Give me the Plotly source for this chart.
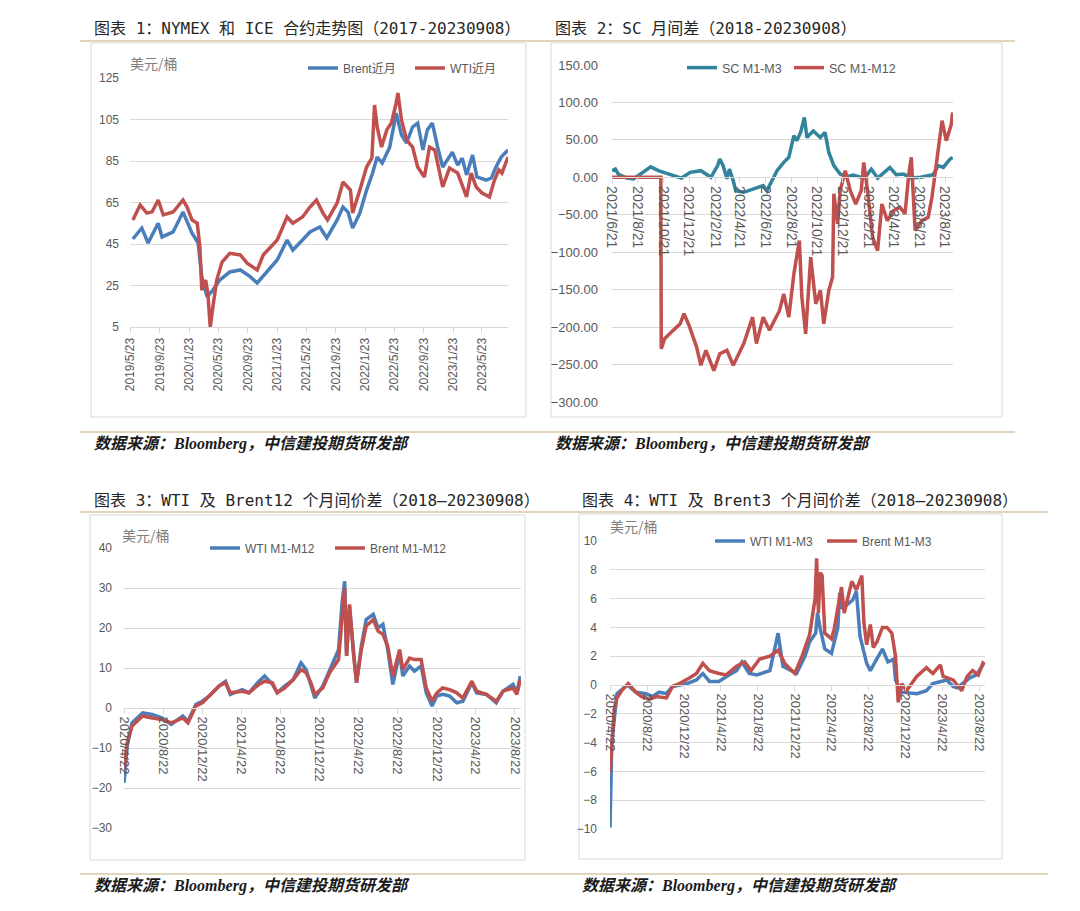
import plotly.graph_objects as go

W, H = 1080, 911

# ---------------- Data ----------------
# Panel 1: NYMEX & ICE front month (USD/bbl)
p1_brent_dates = ["2019-06-04","2019-07-11","2019-08-06","2019-09-17","2019-10-03","2019-11-18","2019-12-29",
                  "2020-02-04","2020-03-01","2020-03-16","2020-04-07","2020-05-01","2020-05-29","2020-07-10",
                  "2020-08-23","2020-09-30","2020-11-01","2021-01-23","2021-03-05","2021-03-29","2021-05-08",
                  "2021-06-08","2021-07-19","2021-08-17","2021-09-29","2021-10-23","2021-11-13","2021-12-02",
                  "2022-01-01","2022-01-29","2022-02-23","2022-03-14","2022-04-04","2022-05-05","2022-06-01",
                  "2022-06-23","2022-07-14","2022-08-08","2022-08-29","2022-09-20","2022-10-08","2022-10-29",
                  "2022-11-20","2022-12-11","2023-01-20","2023-02-11","2023-03-02","2023-03-20","2023-04-14",
                  "2023-05-02","2023-06-10","2023-07-01","2023-07-20","2023-08-11","2023-09-08"]
p1_brent = [47.4, 52.7, 45.5, 55.0, 48.4, 50.8, 60.4,
            50.3, 45.5, 29.1, 19.5, 22.8, 27.6, 31.5,
            32.5, 29.5, 26.2, 37.3, 46.9, 42.1, 46.9,
            50.8, 53.2, 47.9, 56.6, 62.8, 60.4, 52.7,
            59.9, 71.0, 79.2, 86.9, 84.0, 91.7, 108.1,
            97.5, 93.7, 101.4, 103.3, 90.3, 100.0, 103.3,
            91.7, 82.1, 89.3, 83.0, 86.4, 78.3, 87.9,
            77.3, 75.8, 76.8, 82.1, 86.9, 90.3]
p1_wti_dates = ["2019-06-04","2019-07-04","2019-08-01","2019-08-23","2019-09-17","2019-10-08","2019-11-18",
                "2019-12-29","2020-01-15","2020-02-04","2020-02-26","2020-03-08","2020-03-16","2020-04-01",
                "2020-04-10","2020-04-20","2020-05-01","2020-05-17","2020-06-08","2020-07-10","2020-08-23",
                "2020-09-20","2020-11-01","2020-11-26","2021-01-23","2021-03-05","2021-03-29","2021-05-08",
                "2021-06-08","2021-07-05","2021-08-01","2021-08-20","2021-09-29","2021-10-23","2021-11-23",
                "2021-12-02","2022-01-01","2022-01-29","2022-02-20","2022-03-03","2022-03-14","2022-04-01",
                "2022-04-23","2022-05-12","2022-06-01","2022-06-08","2022-06-23","2022-07-14","2022-08-08",
                "2022-08-29","2022-09-26","2022-10-17","2022-11-08","2022-11-29","2022-12-11","2023-01-08",
                "2023-02-11","2023-03-20","2023-04-08","2023-04-29","2023-05-23","2023-06-23","2023-07-14",
                "2023-08-01","2023-08-14","2023-09-08"]
p1_wti = [56.6, 63.8, 59.9, 60.5, 66.2, 59.0, 60.4,
          66.2, 62.8, 56.6, 55.0, 43.6, 22.8, 27.6,
          21.4, 5.0, 14.6, 27.6, 36.3, 40.5, 39.7,
          35.8, 32.5, 39.7, 46.9, 58.0, 55.0, 58.0,
          62.8, 66.2, 59.9, 56.6, 64.8, 74.9, 71.0,
          59.9, 71.0, 82.1, 86.4, 112.0, 101.4, 91.7,
          100.0, 103.3, 113.0, 117.8, 104.8, 95.1, 91.7,
          82.1, 77.3, 91.7, 90.3, 79.2, 72.5, 81.6,
          79.2, 67.7, 79.2, 72.5, 69.6, 67.7, 75.8,
          80.7, 79.2, 86.9]
p1_tick_dates = ["2019-05-23","2019-09-23","2020-01-23","2020-05-23","2020-09-23","2021-01-23","2021-05-23",
                 "2021-09-23","2022-01-23","2022-05-23","2022-09-23","2023-01-23","2023-05-23"]
p1_tick_text = ["2019/5/23","2019/9/23","2020/1/23","2020/5/23","2020/9/23","2021/1/23","2021/5/23",
                "2021/9/23","2022/1/23","2022/5/23","2022/9/23","2023/1/23","2023/5/23"]

# Panel 2: SC spreads
p2_m3_dates = ["2021-06-21","2021-06-29","2021-07-06","2021-07-26","2021-08-11","2021-08-27","2021-09-21",
               "2021-10-09","2021-10-30","2021-12-03","2021-12-24","2022-01-18","2022-02-11","2022-02-27",
               "2022-03-04","2022-03-12","2022-03-21","2022-03-27","2022-04-05","2022-04-11","2022-04-30",
               "2022-05-21","2022-06-15","2022-06-24","2022-07-06","2022-07-18","2022-08-03","2022-08-15",
               "2022-08-27","2022-09-03","2022-09-12","2022-09-21","2022-09-27","2022-10-12","2022-10-29",
               "2022-11-09","2022-11-18","2022-11-30","2022-12-15","2022-12-30","2023-01-15","2023-02-03",
               "2023-02-15","2023-02-27","2023-03-14","2023-04-12","2023-04-27","2023-05-15","2023-05-30",
               "2023-06-24","2023-07-24","2023-08-05","2023-08-17","2023-09-02","2023-09-08"]
p2_m3 = [8.9, 11.0, 4.4, -1.0, -2.0, 4.4, 14.0,
         8.9, 5.3, -1.0, 6.7, 8.9, 0.0, 15.6,
         24.4, 15.6, -2.0, 11.0, -4.4, -17.8, -20.0,
         -15.6, -11.0, -17.8, -4.4, 8.9, 20.0, 26.7,
         55.6, 48.9, 60.0, 80.0, 53.3, 62.0, 53.3,
         60.0, 33.3, 15.6, 4.4, 0.9, 3.0, 0.0,
         2.2, 11.0, -1.0, 13.3, 3.6, 4.4, -1.0,
         0.0, 3.6, 15.6, 13.3, 24.4, 26.7]
p2_m12_dates = ["2021-06-21","2021-10-15","2021-10-16","2021-10-24","2021-11-14","2021-11-30","2021-12-09",
                "2021-12-21","2022-01-08","2022-01-18","2022-01-30","2022-02-18","2022-03-04","2022-03-21",
                "2022-04-05","2022-04-30","2022-05-21","2022-05-30","2022-06-15","2022-06-30","2022-07-24",
                "2022-08-03","2022-08-15","2022-08-27","2022-09-09","2022-09-15","2022-09-24","2022-10-06",
                "2022-10-18","2022-10-29","2022-11-06","2022-11-18","2022-11-27","2022-11-30","2022-12-09",
                "2022-12-15","2022-12-27","2023-01-08","2023-01-21","2023-02-03","2023-02-09","2023-02-18",
                "2023-03-02","2023-03-14","2023-03-24","2023-04-06","2023-04-21","2023-05-06","2023-05-18",
                "2023-05-27","2023-06-02","2023-06-11","2023-06-27","2023-07-12","2023-07-21","2023-08-02",
                "2023-08-14","2023-08-24","2023-09-05","2023-09-08"]
p2_m12 = [0.0, 0.0, -229.0, -215.6, -204.0, -195.6, -182.0,
          -197.8, -226.7, -251.0, -231.0, -258.0, -235.6, -231.0,
          -251.0, -222.0, -186.7, -222.0, -186.7, -204.0, -177.8,
          -155.6, -186.7, -128.9, -84.4, -160.0, -208.9, -106.7,
          -168.9, -151.0, -195.6, -151.0, -133.0, -22.0, -62.0,
          -17.8, 8.9, -17.8, -35.6, -17.8, 20.0, -17.8,
          -80.0, -97.8, -35.6, -57.8, -44.4, -40.0, -48.9,
          4.4, 26.7, -71.0, -57.8, -53.3, -26.7, 26.7,
          75.6, 48.9, 71.0, 86.7]
p2_tick_dates = ["2021-06-21","2021-08-21","2021-10-21","2021-12-21","2022-02-21","2022-04-21","2022-06-21",
                 "2022-08-21","2022-10-21","2022-12-21","2023-02-21","2023-04-21","2023-06-21","2023-08-21"]
p2_tick_text = ["2021/6/21","2021/8/21","2021/10/21","2021/12/21","2022/2/21","2022/4/21","2022/6/21",
                "2022/8/21","2022/10/21","2022/12/21","2023/2/21","2023/4/21","2023/6/21","2023/8/21"]

# Panel 3: 12-month spreads
p3_dates = ["2020-04-22","2020-05-02","2020-05-17","2020-06-19","2020-07-19","2020-08-19","2020-09-16",
            "2020-10-22","2020-11-07","2020-12-02","2020-12-22","2021-01-13","2021-02-12","2021-03-04",
            "2021-03-19","2021-04-25","2021-05-16","2021-06-16","2021-07-04","2021-07-28","2021-08-12",
            "2021-09-04","2021-10-01","2021-10-25","2021-11-10","2021-11-25","2021-12-07","2022-01-01",
            "2022-01-22","2022-02-19","2022-03-02","2022-03-10","2022-03-16","2022-03-25","2022-04-07",
            "2022-04-16","2022-05-01","2022-05-16","2022-06-07","2022-06-22","2022-07-07","2022-07-22",
            "2022-08-07","2022-08-28","2022-09-07","2022-09-28","2022-10-13","2022-11-03","2022-11-19",
            "2022-12-07","2022-12-22","2023-01-09","2023-01-31","2023-02-22","2023-03-13","2023-04-10",
            "2023-04-25","2023-05-25","2023-06-25","2023-07-16","2023-08-16","2023-08-28","2023-09-08"]
p3_wti = [-18.7, -9.5, -3.7, -1.2, -1.6, -2.5, -4.1,
          -2.0, -3.3, 0.9, 1.7, 3.0, 5.5, 6.7,
          3.4, 4.6, 3.8, 6.7, 8.0, 5.9, 3.8,
          5.5, 7.1, 11.3, 9.6, 5.9, 2.5, 5.5,
          9.6, 14.6, 26.3, 31.7, 13.0, 25.5, 13.8,
          6.3, 15.5, 22.1, 23.4, 20.0, 20.9, 14.6,
          5.9, 13.8, 8.0, 10.5, 9.2, 10.5, 3.8,
          0.5, 3.0, 3.4, 3.0, 1.3, 1.7, 6.3,
          3.8, 3.4, 1.3, 4.2, 5.9, 3.8, 8.0]
p3_brent = [-15.4, -8.7, -4.5, -2.0, -2.5, -2.9, -3.7,
            -2.5, -3.7, 0.5, 1.3, 3.0, 5.5, 6.3,
            3.8, 4.2, 3.8, 5.9, 6.7, 6.3, 3.8,
            5.0, 7.1, 9.6, 8.8, 6.3, 3.4, 5.0,
            8.8, 12.1, 22.1, 30.0, 13.0, 25.9, 13.0,
            6.3, 14.6, 20.5, 22.1, 19.2, 18.4, 15.5,
            8.0, 14.6, 9.6, 12.5, 12.1, 12.1, 5.0,
            1.7, 3.8, 5.0, 4.6, 3.8, 2.5, 6.7,
            4.2, 3.4, 1.7, 4.2, 5.0, 3.4, 7.1]
p34_tick_dates = ["2020-04-22","2020-08-22","2020-12-22","2021-04-22","2021-08-22","2021-12-22",
                  "2022-04-22","2022-08-22","2022-12-22","2023-04-22","2023-08-22"]
p34_tick_text = ["2020/4/22","2020/8/22","2020/12/22","2021/4/22","2021/8/22","2021/12/22",
                 "2022/4/22","2022/8/22","2022/12/22","2023/4/22","2023/8/22"]

# Panel 4: 3-month spreads
p4_wti_dates = ["2020-04-22","2020-04-24","2020-04-28","2020-05-06","2020-05-15","2020-06-18","2020-07-16",
                "2020-08-19","2020-09-09","2020-10-01","2020-10-25","2020-11-14","2021-01-01","2021-02-01",
                "2021-02-22","2021-03-16","2021-04-16","2021-05-19","2021-06-13","2021-07-01","2021-07-25",
                "2021-08-19","2021-10-01","2021-10-28","2021-11-13","2021-12-28","2022-01-25","2022-02-09",
                "2022-03-01","2022-03-07","2022-03-16","2022-03-31","2022-04-22","2022-05-13","2022-05-19",
                "2022-05-28","2022-07-01","2022-07-13","2022-07-25","2022-08-16","2022-08-28","2022-09-13",
                "2022-10-07","2022-10-25","2022-11-13","2022-11-19","2022-12-10","2023-01-28","2023-03-01",
                "2023-03-22","2023-05-07","2023-05-28","2023-06-10","2023-07-22","2023-08-13","2023-09-03",
                "2023-09-08"]
p4_wti = [-9.9, -6.8, -4.0, -2.4, -0.6, 0.0, -0.5,
          -0.6, -0.8, -0.5, -0.6, -0.1, 0.1, 0.35,
          0.8, 0.25, 0.25, 0.7, 1.0, 1.6, 0.8,
          0.7, 1.0, 3.6, 1.3, 0.8, 2.0, 3.0,
          3.6, 5.0, 3.9, 2.5, 2.2, 4.0, 6.4,
          5.3, 5.9, 6.5, 3.4, 1.5, 1.0, 1.6,
          2.5, 1.6, 1.8, 0.35, -0.5, -0.6, -0.4,
          0.1, 0.35, -0.1, -0.2, 0.5, 0.7, 1.4,
          1.6]
p4_brent_dates = ["2020-04-22","2020-04-28","2020-05-06","2020-05-15","2020-06-01","2020-06-21","2020-07-16",
                  "2020-08-03","2020-08-29","2020-09-22","2020-10-25","2020-11-14","2020-12-07","2021-01-10",
                  "2021-02-01","2021-02-22","2021-03-16","2021-04-16","2021-05-10","2021-06-13","2021-07-10",
                  "2021-07-31","2021-08-28","2021-10-01","2021-10-28","2021-11-19","2021-12-22","2022-01-15",
                  "2022-02-09","2022-02-27","2022-03-04","2022-03-10","2022-03-16","2022-03-22","2022-03-31",
                  "2022-04-22","2022-05-01","2022-05-25","2022-06-03","2022-06-28","2022-07-13","2022-07-31",
                  "2022-08-07","2022-08-16","2022-08-28","2022-09-07","2022-09-19","2022-10-07","2022-10-22",
                  "2022-11-07","2022-11-19","2022-11-28","2022-12-10","2022-12-25","2023-01-28","2023-03-01",
                  "2023-03-22","2023-04-16","2023-04-25","2023-05-28","2023-06-25","2023-07-13","2023-07-31",
                  "2023-08-19","2023-09-03","2023-09-08"]
p4_brent = [-6.1, -4.0, -1.7, -0.9, -0.35, 0.1, -0.5,
            -0.8, -1.0, -0.8, -0.9, -0.1, 0.1, 0.5,
            0.8, 1.5, 1.0, 0.8, 0.7, 1.3, 1.6,
            1.0, 1.8, 2.0, 2.4, 1.5, 0.8, 2.0,
            3.5, 6.0, 8.8, 5.0, 7.8, 7.6, 3.6,
            3.2, 3.9, 6.8, 5.0, 7.2, 6.6, 7.6,
            4.3, 2.8, 4.2, 2.6, 3.0, 4.0, 4.0,
            3.6, 2.0, -1.2, 0.1, -0.4, 0.6, 1.2,
            0.8, 1.4, 0.6, 0.35, -0.4, 0.6, 1.0,
            0.7, 1.5, 1.4]

# ---------------- Style ----------------
BLUE = "#4A7EBB"
RED = "#C0504D"
TEAL = "#31849B"
GRID = "#D9D9D9"
TICK_C = "#595959"
TAN = "#C7A97B"
LW = 3.5
SANS = "Liberation Sans, Arial, sans-serif"
CJK = "Noto Sans CJK SC, Noto Sans, sans-serif"
TITLE_FONT = "DejaVu Sans Mono, Noto Sans CJK SC, monospace"


def tf(size):
    return dict(family=SANS, size=size, color=TICK_C)


def fx(px):
    return px / W


def fy(py):
    return 1 - py / H


fig = go.Figure()

# Panel 1 traces
fig.add_trace(go.Scatter(x=p1_brent_dates, y=p1_brent, name="Brent近月", mode="lines",
                         line=dict(color=BLUE, width=LW), xaxis="x", yaxis="y", legend="legend"))
fig.add_trace(go.Scatter(x=p1_wti_dates, y=p1_wti, name="WTI近月", mode="lines",
                         line=dict(color=RED, width=LW), xaxis="x", yaxis="y", legend="legend"))
# Panel 2 traces
fig.add_trace(go.Scatter(x=p2_m3_dates, y=p2_m3, name="SC M1-M3", mode="lines",
                         line=dict(color=TEAL, width=LW), xaxis="x2", yaxis="y2", legend="legend2"))
fig.add_trace(go.Scatter(x=p2_m12_dates, y=p2_m12, name="SC M1-M12", mode="lines",
                         line=dict(color=RED, width=LW), xaxis="x2", yaxis="y2", legend="legend2"))
# Panel 3 traces
fig.add_trace(go.Scatter(x=p3_dates, y=p3_wti, name="WTI M1-M12", mode="lines",
                         line=dict(color=BLUE, width=LW), xaxis="x3", yaxis="y3", legend="legend3"))
fig.add_trace(go.Scatter(x=p3_dates, y=p3_brent, name="Brent M1-M12", mode="lines",
                         line=dict(color=RED, width=LW), xaxis="x3", yaxis="y3", legend="legend3"))
# Panel 4 traces
fig.add_trace(go.Scatter(x=p4_wti_dates, y=p4_wti, name="WTI M1-M3", mode="lines",
                         line=dict(color=BLUE, width=LW), xaxis="x4", yaxis="y4", legend="legend4"))
fig.add_trace(go.Scatter(x=p4_brent_dates, y=p4_brent, name="Brent M1-M3", mode="lines",
                         line=dict(color=RED, width=LW), xaxis="x4", yaxis="y4", legend="legend4"))

# Axis geometry (pixels of the reference)
p1_dx, p1_dy = [fx(130), fx(508)], [fy(327), fy(78)]
p2_dx, p2_dy = [fx(612), fx(953)], [fy(402), fy(65)]
p3_dx, p3_dy = [fx(124), fx(521)], [fy(828), fy(548)]
p4_dx, p4_dy = [fx(610), fx(985)], [fy(829), fy(541)]
p1_yr, p2_yr, p3_yr, p4_yr = [5, 125], [-300, 150], [-30, 40], [-10, 10]


def zero_pos(dom, rng):
    return dom[0] + (0 - rng[0]) / (rng[1] - rng[0]) * (dom[1] - dom[0])


def xax(dom, rng, tv, tt, angle, anchor, fsize, pos=None):
    d = dict(domain=dom, type="date", range=rng, tickmode="array", tickvals=tv, ticktext=tt,
             tickangle=angle, showgrid=False, showline=True, linecolor=GRID, linewidth=1,
             ticks="outside", ticklen=5, tickcolor=GRID, tickfont=tf(fsize), zeroline=False,
             fixedrange=True, automargin=False)
    if pos is None:
        d["anchor"] = anchor
    else:
        d["anchor"] = "free"
        d["position"] = pos
    return d


def yax(dom, rng, dtick, anchor, fsize, fmt=None, standoff=10):
    d = dict(domain=dom, range=rng, tick0=rng[0], dtick=dtick, showgrid=True, gridcolor=GRID,
             gridwidth=1, showline=False, zeroline=False, ticks="", tickfont=tf(fsize),
             anchor=anchor, ticklabelstandoff=standoff, fixedrange=True, automargin=False)
    if fmt:
        d["tickformat"] = fmt
    return d


fig.update_layout(
    width=W, height=H, margin=dict(l=0, r=0, t=0, b=0, autoexpand=False),
    paper_bgcolor="white", plot_bgcolor="white", showlegend=True,
    xaxis=xax(p1_dx, ["2019-05-23", "2023-09-08"], p1_tick_dates, p1_tick_text, -90, "y", 12),
    yaxis=yax(p1_dy, p1_yr, 20, "x", 12, standoff=10),
    xaxis2=xax(p2_dx, ["2021-06-21", "2023-09-09"], p2_tick_dates, p2_tick_text, 90, None, 14,
               pos=zero_pos(p2_dy, p2_yr)),
    yaxis2=yax(p2_dy, p2_yr, 50, "x2", 13, fmt=".2f", standoff=13),
    xaxis3=xax(p3_dx, ["2020-04-22", "2023-09-10"], p34_tick_dates, p34_tick_text, 90, None, 13,
               pos=zero_pos(p3_dy, p3_yr)),
    yaxis3=yax(p3_dy, p3_yr, 10, "x3", 12, standoff=11),
    xaxis4=xax(p4_dx, ["2020-04-22", "2023-09-10"], p34_tick_dates, p34_tick_text, 90, None, 13,
               pos=zero_pos(p4_dy, p4_yr)),
    yaxis4=yax(p4_dy, p4_yr, 2, "x4", 12, standoff=12),
)

LEG_FONT = dict(family="Liberation Sans, Noto Sans CJK SC, sans-serif", size=12, color=TICK_C)
LEG_FONT2 = dict(family="Liberation Sans, Noto Sans CJK SC, sans-serif", size=12.5, color=TICK_C)


def legend(x, y, ew, font):
    return dict(orientation="h", x=fx(x), y=fy(y), xanchor="left", yanchor="middle",
                bgcolor="rgba(0,0,0,0)", font=font, entrywidth=ew, entrywidthmode="pixels",
                itemclick=False, itemdoubleclick=False)


fig.update_layout(
    legend=legend(303, 68, 62, LEG_FONT),
    legend2=legend(682, 68, 62, LEG_FONT2),
    legend3=legend(205, 548, 80, LEG_FONT),
    legend4=legend(710, 541, 67, LEG_FONT),
)

# Panel frames and separators
shapes = []
for (x0, y0, x1, y1) in [(91, 43, 526, 417), (551, 43, 1002, 417), (90, 515, 525, 860), (579, 514, 1002, 859)]:
    shapes.append(dict(type="rect", xref="paper", yref="paper", x0=fx(x0), y0=fy(y0), x1=fx(x1), y1=fy(y1),
                       line=dict(color=GRID, width=1), fillcolor="rgba(0,0,0,0)", layer="below"))
for (x0, x1, y) in [(80, 1015, 41), (80, 1015, 432), (80, 1048, 512), (80, 1048, 874)]:
    shapes.append(dict(type="line", xref="paper", yref="paper", x0=fx(x0), x1=fx(x1), y0=fy(y), y1=fy(y),
                       line=dict(color=TAN, width=1)))
fig.update_layout(shapes=shapes)

ann = []
titles = [
    (92, 28, "图表 1：NYMEX 和 ICE 合约走势图（2017-20230908）"),
    (553, 28, "图表 2：SC 月间差（2018-20230908）"),
    (92, 500, "图表 3：WTI 及 Brent12 个月间价差（2018—20230908）"),
    (580, 500, "图表 4：WTI 及 Brent3 个月间价差（2018—20230908）"),
]
for x, y, t in titles:
    ann.append(dict(x=fx(x), y=fy(y), xref="paper", yref="paper", text=t, showarrow=False,
                    xanchor="left", yanchor="middle", font=dict(family=TITLE_FONT, size=16, color="#262626")))
for x, y in [(92, 444), (553, 444), (92, 886), (580, 886)]:
    ann.append(dict(x=fx(x), y=fy(y), xref="paper", yref="paper",
                    text="<b><i>数据来源：Bloomberg，中信建投期货研发部</i></b>", showarrow=False,
                    xanchor="left", yanchor="middle",
                    font=dict(family="Liberation Serif, Noto Sans CJK SC, serif", size=16, color="#1a1a1a")))
for x, y in [(128, 63), (120, 535), (608, 526)]:
    ann.append(dict(x=fx(x), y=fy(y), xref="paper", yref="paper", text="美元/桶", showarrow=False,
                    xanchor="left", yanchor="middle", font=dict(family=CJK, size=14, color="#7F7F7F")))
fig.update_layout(annotations=ann)

fig.write_html("out.html")
